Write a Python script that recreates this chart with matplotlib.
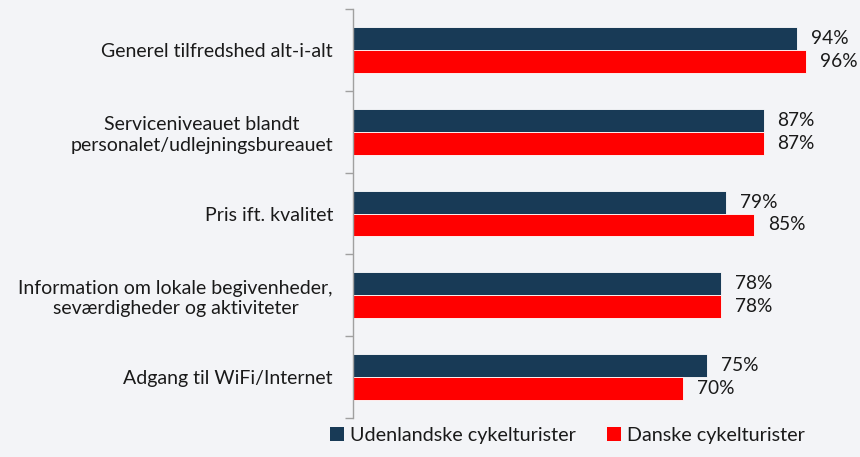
import numpy as np
import matplotlib.pyplot as plt
from matplotlib.patches import Patch

categories = [
    "Generel tilfredshed alt-i-alt",
    "Serviceniveauet blandt\npersonalet/udlejningsbureauet",
    "Pris ift. kvalitet",
    "Information om lokale begivenheder,\nseværdigheder og aktiviteter",
    "Adgang til WiFi/Internet",
]
foreign = [94, 87, 79, 78, 75]
danish = [96, 87, 85, 78, 70]
series_names = ["Udenlandske cykelturister", "Danske cykelturister"]

navy = "#183A56"
red = "#FF0000"
bg = "#F3F4F7"
txt = "#1A1A1A"

plt.rcParams['font.family'] = ['Lato', 'DejaVu Sans']

fig = plt.figure(figsize=(8.6, 4.57), dpi=100, facecolor=bg)
ax = fig.add_axes([0.4105, 0.0853, 0.5488, 0.8950])
ax.set_facecolor(bg)

y = np.arange(len(categories))
h = 0.28
bars1 = ax.barh(y - h / 2, foreign, height=h, color=navy, edgecolor="#ffffff", linewidth=0.6)
bars2 = ax.barh(y + h / 2, danish, height=h, color=red, edgecolor="#ffffff", linewidth=0.6)

for bars, vals in [(bars1, foreign), (bars2, danish)]:
    for b, v in zip(bars, vals):
        ax.annotate(f"{v}%", (b.get_width(), b.get_y() + b.get_height() / 2),
                    xytext=(10, 0), textcoords="offset points",
                    ha="left", va="center", fontsize=13.8, color=txt)

ax.set_xlim(0, 100)
ax.set_ylim(len(categories) - 0.5, -0.5)
ax.set_xticks([])
ax.set_yticks(np.arange(len(categories) + 1) - 0.5)
ax.set_yticklabels([])
ax.set_yticks(y, minor=True)
ax.set_yticklabels(categories, minor=True, fontsize=14, color=txt,
                   multialignment="center", linespacing=1.25)
ax.tick_params(axis="y", which="major", length=6, color="#A0A0A0", width=1)
ax.tick_params(axis="y", which="minor", length=0, pad=14.5)
for s in ["top", "right", "bottom"]:
    ax.spines[s].set_visible(False)
ax.spines["left"].set_color("#A0A0A0")
ax.spines["left"].set_linewidth(1)

# legend sits low, like the reference, but kept fully inside the figure
handles = [Patch(facecolor=navy), Patch(facecolor=red)]
fig.legend(handles, series_names, loc="lower center", bbox_to_anchor=(0.66, 0.0),
           ncol=2, frameon=False, fontsize=14.2, handlelength=0.7, handleheight=0.7,
           handletextpad=0.3, columnspacing=1.6, labelcolor=txt, borderpad=0.15)

fig.savefig("out.png", dpi=100, facecolor=bg)
